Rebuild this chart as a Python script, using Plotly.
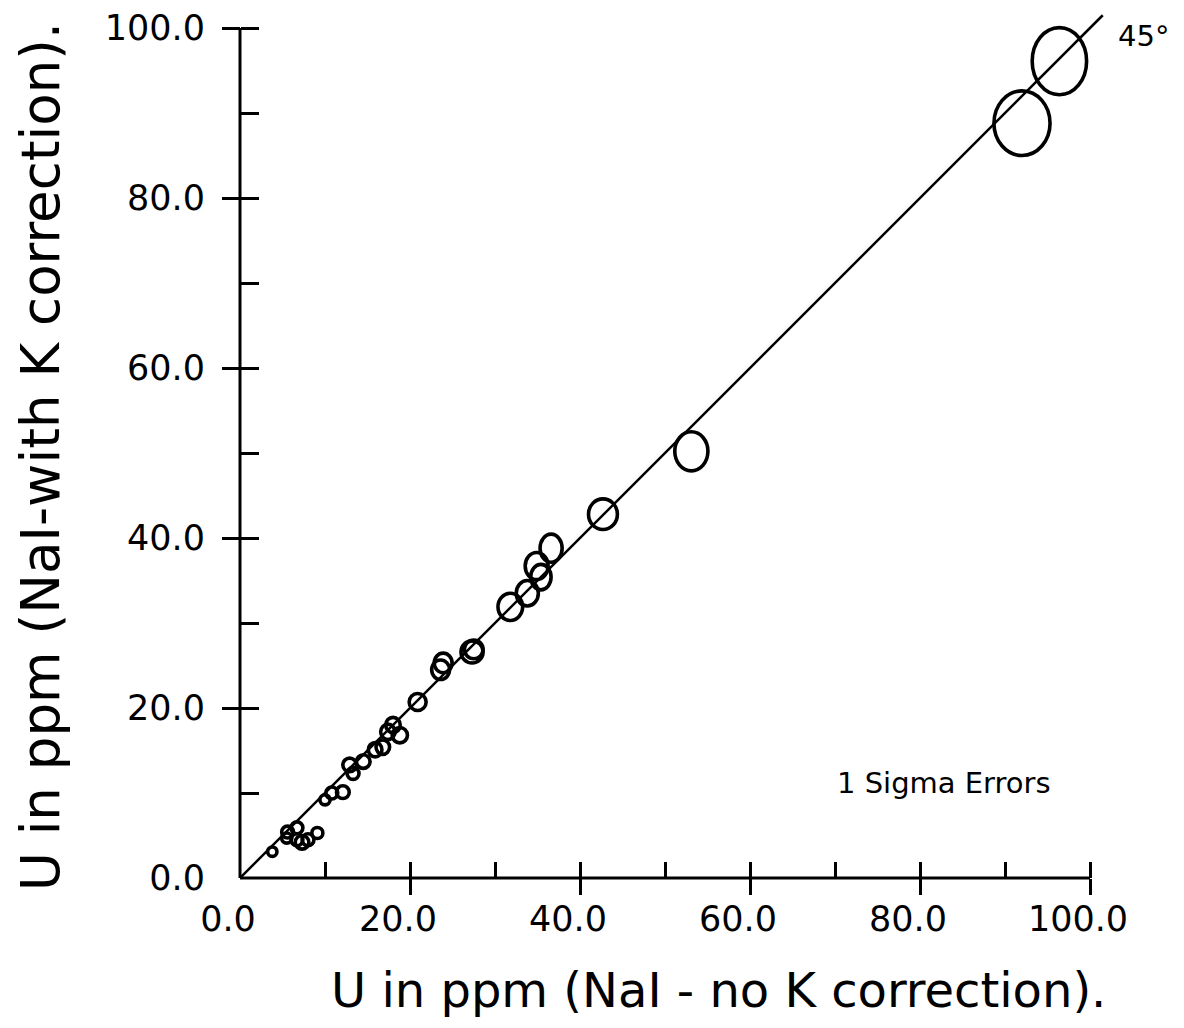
import plotly.graph_objects as go

# ---- data ----
u_no_k = [96.4, 92.0, 53.1, 42.7, 36.6, 34.9, 35.4, 33.8, 31.8, 27.3, 27.5,
          23.9, 23.6, 20.9, 17.4, 18.0, 18.8, 15.9, 16.8, 12.9, 14.5, 13.3,
          10.8, 12.1, 10.0, 5.6, 6.7, 7.3, 6.7, 9.1, 5.5, 3.8, 8.0]
u_with_k = [96.1, 88.8, 50.2, 42.8, 38.8, 36.7, 35.4, 33.5, 31.9, 26.6, 26.9,
            25.3, 24.5, 20.7, 17.2, 18.0, 16.8, 15.1, 15.4, 13.3, 13.7, 12.3,
            10.0, 10.1, 9.2, 5.4, 5.9, 4.2, 4.5, 5.3, 4.7, 3.1, 4.5]
sigma_x = [3.2, 3.3, 1.95, 1.7, 1.3, 1.35, 1.2, 1.3, 1.45, 1.3, 1.1,
           1.05, 1.05, 1.0, 0.85, 0.85, 0.9, 0.8, 0.8, 0.8, 0.8, 0.7,
           0.7, 0.75, 0.6, 0.7, 0.7, 0.8, 0.7, 0.65, 0.6, 0.55, 0.7]
sigma_y = [3.95, 3.8, 2.3, 1.8, 1.65, 1.6, 1.5, 1.5, 1.6, 1.3, 1.1,
           1.15, 1.15, 1.0, 0.9, 0.9, 0.9, 0.85, 0.85, 0.8, 0.8, 0.7,
           0.7, 0.75, 0.6, 0.7, 0.7, 0.8, 0.7, 0.65, 0.6, 0.55, 0.7]

diag = [0.0, 101.5]                       # 45 degree reference line
major_ticks = [0, 20, 40, 60, 80, 100]
major_labels = ["0.0", "20.0", "40.0", "60.0", "80.0", "100.0"]
outer_ticks = [20, 40, 60, 80, 100]
inner_ticks = [10, 20, 30, 40, 50, 60, 70, 80, 90, 100]
axis_max = 100
x_range = [0, 110]
y_range = [0, 878 / 8.5]

x_title = "U in ppm (NaI - no K correction)."
y_title = "U in ppm (NaI-with K correction)."
angle_label = "45°"
note_label = "1 Sigma Errors"

FONT = "DejaVu Sans"
BLACK = "black"

fig = go.Figure()

# 45 degree line
fig.add_trace(go.Scatter(x=diag, y=diag, mode="lines", xaxis="x2", yaxis="y2",
                         line=dict(color=BLACK, width=2.5),
                         showlegend=False, hoverinfo="skip"))
# invisible centres (keeps third overlay subplot alive)
fig.add_trace(go.Scatter(x=u_no_k, y=u_with_k, mode="markers", xaxis="x3", yaxis="y3",
                         marker=dict(opacity=0, size=2),
                         showlegend=False, hoverinfo="skip"))

shapes = []
for cx, cy, sx, sy in zip(u_no_k, u_with_k, sigma_x, sigma_y):
    shapes.append(dict(type="circle", xref="x", yref="y",
                       x0=cx - sx, x1=cx + sx, y0=cy - sy, y1=cy + sy,
                       line=dict(color=BLACK, width=3.6),
                       fillcolor="rgba(0,0,0,0)", layer="above"))
# axis lines (only to 100)
shapes.append(dict(type="line", xref="x", yref="paper", x0=0, x1=axis_max, y0=0, y1=0,
                   line=dict(color=BLACK, width=3)))
shapes.append(dict(type="line", xref="paper", yref="y", x0=0, x1=0, y0=0, y1=axis_max,
                   line=dict(color=BLACK, width=3)))

common = dict(showgrid=False, zeroline=False, showline=False)
tickfont = dict(family=FONT, size=35, color=BLACK)

fig.update_layout(
    width=1184, height=1028,
    margin=dict(l=240, r=9, t=0, b=150),
    paper_bgcolor="white", plot_bgcolor="white",
    showlegend=False,
    shapes=shapes,
    xaxis=dict(range=x_range, tickvals=major_ticks, ticktext=major_labels, ticks="",
               tickfont=tickfont, ticklabelstandoff=17, ticklabelshift=-12, **common),
    yaxis=dict(range=y_range, tickvals=major_ticks, ticktext=major_labels, ticks="",
               tickfont=tickfont, ticklabelstandoff=34, **common),
    xaxis2=dict(range=x_range, overlaying="x", anchor="y2", side="bottom",
                tickvals=outer_ticks, ticks="outside", ticklen=16, tickwidth=3,
                tickcolor=BLACK, showticklabels=False, **common),
    yaxis2=dict(range=y_range, overlaying="y", anchor="free", position=0, side="left",
                tickvals=outer_ticks, ticks="outside", ticklen=18, tickwidth=3,
                tickcolor=BLACK, showticklabels=False, **common),
    xaxis3=dict(range=x_range, overlaying="x", anchor="y3", side="bottom",
                tickvals=inner_ticks, ticks="inside", ticklen=16, tickwidth=3,
                tickcolor=BLACK, showticklabels=False, **common),
    yaxis3=dict(range=y_range, overlaying="y", anchor="free", position=0, side="right",
                tickvals=inner_ticks, ticks="outside", ticklen=18, tickwidth=3,
                tickcolor=BLACK, showticklabels=False, **common),
    annotations=[
        dict(text=x_title, xref="paper", yref="paper", x=(718 - 240) / 935, y=(878 - 990) / 878,
             xanchor="center", yanchor="middle", showarrow=False,
             font=dict(family=FONT, size=48, color=BLACK)),
        dict(text=y_title, xref="paper", yref="paper", x=(40 - 240) / 935, y=(878 - 457) / 878,
             xanchor="center", yanchor="middle", showarrow=False, textangle=-90,
             font=dict(family=FONT, size=53, color=BLACK)),
        dict(text=angle_label, xref="x", yref="y", x=103.0, y=99.1,
             xanchor="left", yanchor="middle", showarrow=False,
             font=dict(family=FONT, size=29, color=BLACK)),
        dict(text=note_label, xref="x", yref="y", x=95.6, y=11.2,
             xanchor="right", yanchor="middle", showarrow=False,
             font=dict(family=FONT, size=29, color=BLACK)),
    ],
)

fig.write_html("out.html")
